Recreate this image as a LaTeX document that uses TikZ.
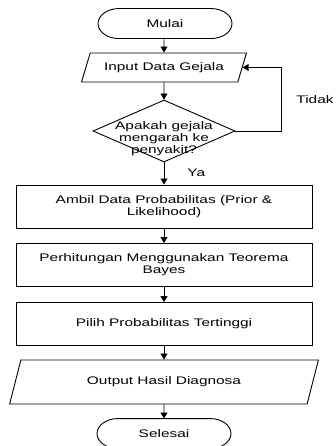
\documentclass[tikz,border=0pt]{standalone}
\usepackage{fontspec}
\setmainfont{Liberation Sans}[FakeStretch=1.4]
\usetikzlibrary{shapes.geometric,arrows.meta}
\begin{document}
\begin{tikzpicture}[x=1pt,y=-1pt,
  font=\fontsize{11}{12}\selectfont,
  line width=0.9pt,
  base/.style={draw=black, inner sep=0pt, align=center},
  term/.style={inner sep=0pt, rectangle, minimum width=134pt, minimum height=30pt},
  stadium/.style={draw=black},
  proc/.style={base, rectangle, minimum width=296pt, minimum height=43pt},
  io/.style={base, trapezium, trapezium stretches=true},
  dec/.style={draw=black, diamond, inner sep=0pt, minimum width=142pt, minimum height=62pt},
  lbl/.style={inner sep=0pt},
  arr/.style={-{Triangle[length=6pt,width=7pt]}}]
\useasboundingbox (0,0) rectangle (335,446);

\node[term] (start) at (165,24) {Mulai};
\draw[stadium] (start.north) ++(-46,0) -- ++(92,0)
  arc[start angle=-90,end angle=90,x radius=21,y radius=15] -- ++(-92,0)
  arc[start angle=90,end angle=270,x radius=21,y radius=15] -- cycle;
\node[io, trapezium left angle=55.4, trapezium right angle=124.6,
      minimum width=165pt, minimum height=29pt] (in) at (164,67.5) {Input Data Gejala};
\node[dec] (dia) at (164,131) {};
\node[inner sep=0pt, align=center] (diat) at (164,139) {Apakah gejala\\mengarah ke\\penyakit?};
\node[proc] (p1) at (164,206.5) {Ambil Data Probabilitas (Prior \&\\Likelihood)};
\node[proc] (p2) at (164,265) {Perhitungan Menggunakan Teorema\\Bayes};
\node[proc] (p3) at (164,324) {Pilih Probabilitas Tertinggi};
\node[io, trapezium left angle=59.4, trapezium right angle=120.6,
      minimum width=309pt, minimum height=44pt] (out) at (164,382) {Output Hasil Diagnosa};
\node[term] (end) at (164,434) {Selesai};
\draw[stadium] (end.north) ++(-46,0) -- ++(92,0)
  arc[start angle=-90,end angle=90,x radius=21,y radius=15] -- ++(-92,0)
  arc[start angle=90,end angle=270,x radius=21,y radius=15] -- cycle;

\node[lbl, anchor=west] (ya) at (187,173) {Ya};
\node[lbl, anchor=east] (tidak) at (334,100) {Tidak};

\coordinate (loop) at (281,131);

\draw[arr] (start.south -| in) -- (in);
\draw[arr] (in) -- (dia);
\draw[arr] (dia) -- (p1);
\draw[arr] (p1) -- (p2);
\draw[arr] (p2) -- (p3);
\draw[arr] (p3) -- (out);
\draw[arr] (out) -- (end);
\draw[arr] (dia.east) -- (loop) |- (in.east);
\end{tikzpicture}
\end{document}
